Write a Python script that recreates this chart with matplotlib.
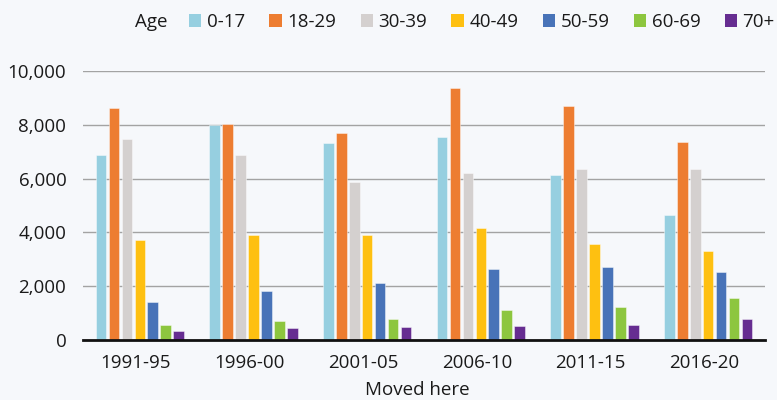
import numpy as np
import matplotlib
matplotlib.use("Agg")
import matplotlib.pyplot as plt
from matplotlib.patches import Patch
from matplotlib.ticker import StrMethodFormatter
import matplotlib.transforms as mtransforms

plt.rcParams['font.family'] = ['Open Sans', 'DejaVu Sans']

periods = ["1991-95", "1996-00", "2001-05", "2006-10", "2011-15", "2016-20"]
age_groups = ["0-17", "18-29", "30-39", "40-49", "50-59", "60-69", "70+"]
colors = ["#96cfe0", "#ed7d31", "#d4d0cf", "#fec011", "#4873b8", "#8dc63f", "#662d91"]

age_0_17 = [6880, 7980, 7320, 7530, 6130, 4640]
age_18_29 = [8620, 8030, 7700, 9350, 8700, 7360]
age_30_39 = [7470, 6870, 5870, 6200, 6350, 6350]
age_40_49 = [3700, 3910, 3890, 4150, 3560, 3300]
age_50_59 = [1410, 1810, 2110, 2630, 2700, 2530]
age_60_69 = [540, 690, 770, 1100, 1240, 1570]
age_70_plus = [320, 430, 470, 510, 570, 790]
series = [age_0_17, age_18_29, age_30_39, age_40_49, age_50_59, age_60_69, age_70_plus]

bg = "#f6f8fb"
txt = "#1a1a1a"

fig = plt.figure(figsize=(7.77, 4.0), dpi=100, facecolor=bg)
ax = fig.add_axes([83 / 777, 60 / 400, 682 / 777, 269 / 400], facecolor=bg)

x = np.arange(len(periods))
slot = 0.8 / len(series)
for i, (vals, c) in enumerate(zip(series, colors)):
    ax.bar(x - 0.4 + slot * (i + 0.5), vals, width=slot * 0.82, color=c,
           edgecolor=(1, 1, 1, 0.5), linewidth=0.6, zorder=3)

ax.set_xlim(-0.5, len(periods) - 0.5)
ax.set_ylim(0, 10000)
ax.set_yticks(range(0, 10001, 2000))
ax.yaxis.set_major_formatter(StrMethodFormatter("{x:,.0f}"))
ax.grid(axis="y", color="#a3a3a3", linewidth=1.0, zorder=0)
for s in ["top", "right", "left"]:
    ax.spines[s].set_visible(False)
ax.spines["bottom"].set_color("#111111")
ax.spines["bottom"].set_linewidth(2)
ax.spines["bottom"].set_zorder(4)

ax.set_xticks(x)
ax.set_xticklabels(periods)
ax.tick_params(axis="both", length=0, labelsize=13.5, labelcolor=txt)
ax.tick_params(axis="y", pad=12)
ax.tick_params(axis="x", pad=10)
shift = mtransforms.ScaledTranslation(-4 / 100, 0, fig.dpi_scale_trans)
for lab in ax.get_xticklabels():
    lab.set_transform(lab.get_transform() + shift)

ax.set_xlabel("Moved here", fontsize=13.5, color=txt)
ax.xaxis.set_label_coords(0.49, -0.153)

fig.text(135 / 777, 1 - 22 / 400, "Age", fontsize=13.5, color=txt, va="center", ha="left")
handles = [Patch(facecolor=c, edgecolor="none") for c in colors]
fig.legend(handles, age_groups, loc="center left", bbox_to_anchor=(189 / 777, 1 - 22 / 400),
           ncol=7, frameon=False, fontsize=13.5, handlelength=0.65, handleheight=0.65,
           handletextpad=0.3, columnspacing=1.3, borderpad=0, borderaxespad=0, labelcolor=txt)

fig.savefig("out.png", dpi=100, facecolor=bg)
